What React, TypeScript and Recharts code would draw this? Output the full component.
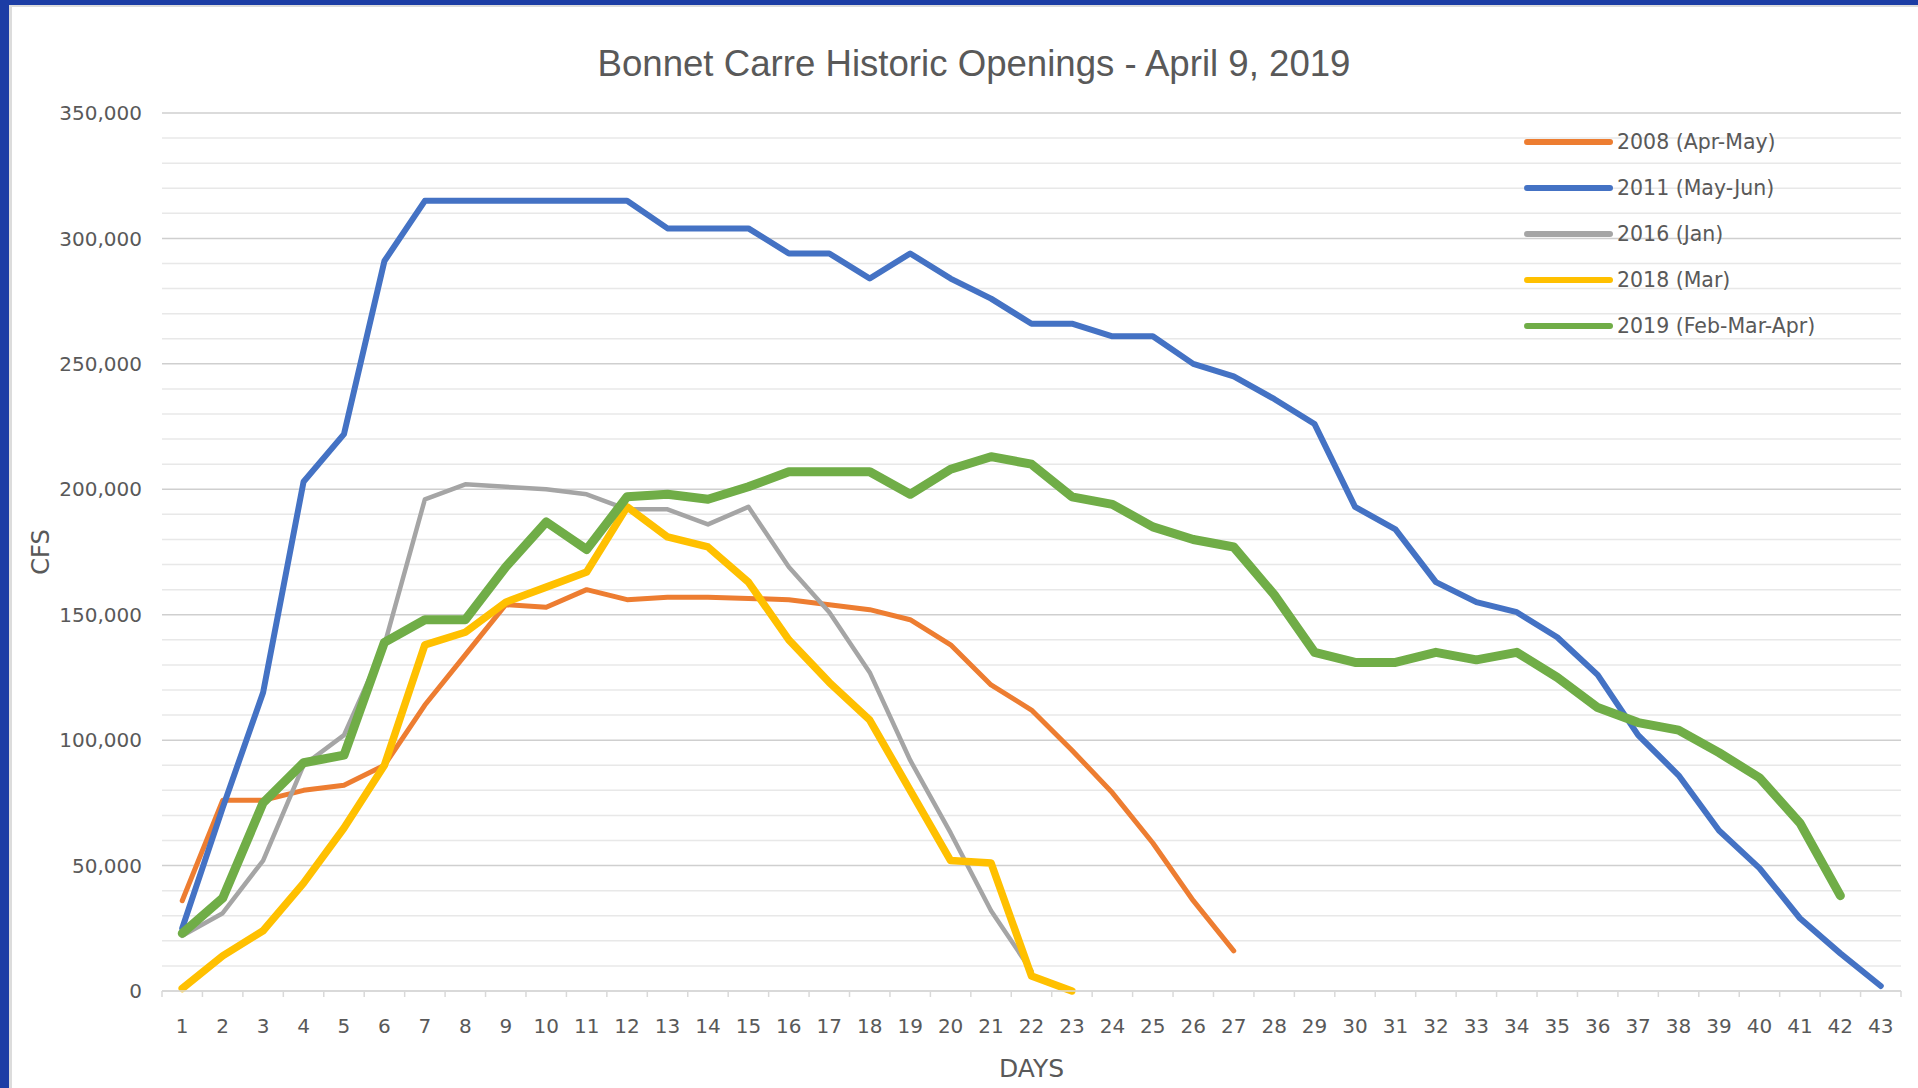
import React from "react";
import { LineChart, Line, XAxis, YAxis, CartesianGrid, Legend, Label } from "recharts";

const days = [1, 2, 3, 4, 5, 6, 7, 8, 9, 10, 11, 12, 13, 14, 15, 16, 17, 18, 19, 20, 21, 22, 23, 24, 25, 26, 27, 28, 29, 30, 31, 32, 33, 34, 35, 36, 37, 38, 39, 40, 41, 42, 43];

const flow2008 = [36000, 76000, 76000, 80000, 82000, 90000, 114000, 134000, 154000, 153000, 160000, 156000, 157000, 157000, 156500, 156000, 154000, 152000, 148000, 138000, 122000, 112000, 96000, 79000, 59000, 36000, 16000];

const flow2011 = [25000, 73000, 119000, 203000, 222000, 291000, 315000, 315000, 315000, 315000, 315000, 315000, 304000, 304000, 304000, 294000, 294000, 284000, 294000, 284000, 276000, 266000, 266000, 261000, 261000, 250000, 245000, 236000, 226000, 193000, 184000, 163000, 155000, 151000, 141000, 126000, 102000, 86000, 64000, 49000, 29000, 15000, 2000];

const flow2016 = [22000, 31000, 52000, 90000, 102000, 138000, 196000, 202000, 201000, 200000, 198000, 192000, 192000, 186000, 193000, 169000, 151000, 127000, 92000, 63000, 32000, 8000];

const flow2018 = [1000, 14000, 24000, 43000, 65000, 90000, 138000, 143000, 155000, 161000, 167000, 193000, 181000, 177000, 163000, 140000, 123000, 108000, 80000, 52000, 51000, 6000, 0];

const flow2019 = [23000, 37000, 75000, 91000, 94000, 139000, 148000, 148000, 169000, 187000, 176000, 197000, 198000, 196000, 201000, 207000, 207000, 207000, 198000, 208000, 213000, 210000, 197000, 194000, 185000, 180000, 177000, 158000, 135000, 131000, 131000, 135000, 132000, 135000, 125000, 113000, 107000, 104000, 95000, 85000, 67000, 38000];

const majorTicks = [0, 50000, 100000, 150000, 200000, 250000, 300000, 350000];
const minorTicks = Array.from({ length: 36 }, (_, i) => i * 10000).filter((v) => v % 50000 !== 0);

const series = [
  { key: "s2008", name: "2008 (Apr-May)", color: "#ED7D31", width: 5, values: flow2008 },
  { key: "s2011", name: "2011 (May-Jun)", color: "#4472C4", width: 6, values: flow2011 },
  { key: "s2016", name: "2016 (Jan)", color: "#A5A5A5", width: 4.5, values: flow2016 },
  { key: "s2018", name: "2018 (Mar)", color: "#FFC000", width: 7.5, values: flow2018 },
  { key: "s2019", name: "2019 (Feb-Mar-Apr)", color: "#70AD47", width: 9, values: flow2019 },
];

const data = days.map((d, i) => {
  const row: any = { day: d };
  series.forEach((s) => {
    row[s.key] = i < s.values.length ? s.values[i] : null;
  });
  return row;
});

const xTicks: number[] = [];
days.forEach((d) => {
  xTicks.push(d - 0.5);
  xTicks.push(d);
});
xTicks.push(days[days.length - 1] + 0.5);

const FONT = "'DejaVu Sans', Verdana, sans-serif";
const TEXT = "#595959";

const XTick = (props: any) => {
  const { x, y, payload } = props;
  const v = payload.value;
  if (Number.isInteger(v)) {
    return (
      <text x={x} y={y + 35} dy="0.355em" textAnchor="middle" fontFamily={FONT} fontSize={20} fill={TEXT}>
        {v}
      </text>
    );
  }
  return <line x1={x} x2={x} y1={y} y2={y + 6} stroke="#d9d9d9" strokeWidth={1.5} />;
};

const LegendContent = (props: any) => {
  const { payload } = props;
  return (
    <div style={{ display: "flex", flexDirection: "column" }}>
      {(payload || []).map((p: any) => (
        <div key={p.value} style={{ height: 46, display: "flex", alignItems: "center" }}>
          <svg width={90} height={10} style={{ display: "block" }}>
            <line x1={3} x2={86} y1={5} y2={5} stroke={p.color} strokeWidth={6} strokeLinecap="round" />
          </svg>
          <span style={{ fontFamily: FONT, fontSize: 20.5, color: TEXT, marginLeft: 3, whiteSpace: "nowrap" }}>{p.value}</span>
        </div>
      ))}
    </div>
  );
};

export default function App() {
  return (
    <div style={{ position: "absolute", left: 0, top: 0, width: 1918, height: 1088, background: "#1c3da5", overflow: "hidden" }}>
      <div style={{ position: "absolute", left: 9, top: 5, right: 0, bottom: 0, background: "#dcdcdc" }} />
      <div style={{ position: "absolute", left: 12, top: 7, right: 0, bottom: 0, background: "#ffffff" }} />
      <div style={{ position: "absolute", left: 0, top: 0 }}>
        <LineChart width={1918} height={1088} data={data} margin={{ top: 113, right: 17, bottom: 0, left: 12 }}>
          <CartesianGrid vertical={false} horizontalValues={minorTicks} stroke="#e8e8e8" strokeWidth={1.5} />
          <CartesianGrid vertical={false} horizontalValues={majorTicks} stroke="#cfcfcf" strokeWidth={1.5} />
          <XAxis
            dataKey="day"
            type="number"
            domain={[0.5, 43.5]}
            ticks={xTicks}
            interval={0}
            tickSize={0}
            tickMargin={0}
            tickLine={false}
            tick={<XTick />}
            axisLine={{ stroke: "#d9d9d9", strokeWidth: 1.5 }}
            height={97}
          >
            <Label value="DAYS" position="insideBottom" offset={11} fontFamily={FONT} fontSize={25} fill={TEXT} />
          </XAxis>
          <YAxis
            type="number"
            domain={[0, 350000]}
            ticks={majorTicks}
            width={150}
            tickSize={0}
            tickMargin={20}
            axisLine={false}
            tickLine={false}
            tickFormatter={(v: number) => v.toLocaleString("en-US")}
            tick={{ fontFamily: FONT, fontSize: 20, fill: TEXT }}
          >
            <Label value="CFS" angle={-90} position="insideLeft" offset={28} fontFamily={FONT} fontSize={24} fill={TEXT} style={{ textAnchor: "middle" }} />
          </YAxis>
          <Legend
            layout="vertical"
            align="center"
            verticalAlign="middle"
            content={<LegendContent />}
            wrapperStyle={{ left: 1524, top: 119, width: "auto", right: "auto", bottom: "auto" }}
          />
          {series.map((s) => (
            <Line
              key={s.key}
              dataKey={s.key}
              name={s.name}
              type="linear"
              stroke={s.color}
              strokeWidth={s.width}
              strokeLinecap="round"
              strokeLinejoin="round"
              dot={false}
              activeDot={false}
              connectNulls={false}
              isAnimationActive={false}
            />
          ))}
        </LineChart>
      </div>
      <svg width={1918} height={120} style={{ position: "absolute", left: 0, top: 0, pointerEvents: "none" }}>
        <text x={974} y={76} textAnchor="middle" fontFamily="'Liberation Sans', Arial, sans-serif" fontSize={37} fill={TEXT} textLength={753} lengthAdjust="spacingAndGlyphs">
          Bonnet Carre Historic Openings - April 9, 2019
        </text>
      </svg>
    </div>
  );
}
